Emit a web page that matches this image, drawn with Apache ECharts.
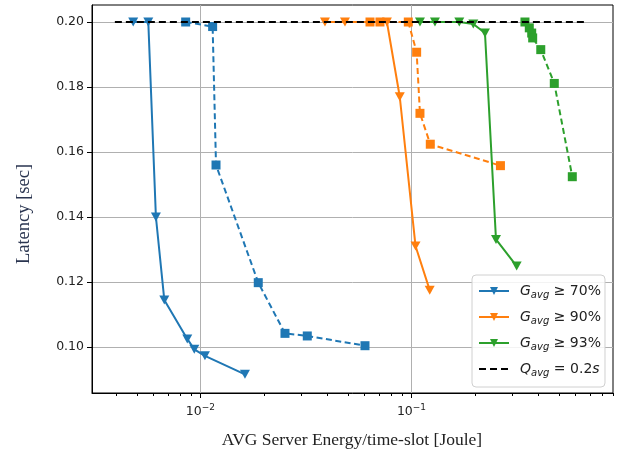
<!DOCTYPE html>
<html>
<head>
<meta charset="utf-8">
<script src="https://cdn.jsdelivr.net/npm/echarts@6/dist/echarts.min.js"></script>
<style>
html,body{margin:0;padding:0;background:#fff;}
#chart{width:622px;height:457px;}
</style>
</head>
<body>
<div id="chart"></div>
<script>
// ---- data ----
const g70SolidX = [0.00480, 0.00566, 0.00615, 0.00674, 0.00866, 0.00935, 0.01050, 0.01625];
const g70SolidY = [0.2000, 0.2000, 0.1400, 0.1145, 0.1025, 0.0993, 0.0973, 0.0916];
const g70DashX = [0.00851, 0.01142, 0.01185, 0.01879, 0.02515, 0.03208, 0.06021];
const g70DashY = [0.2000, 0.1986, 0.1560, 0.1198, 0.1042, 0.1034, 0.1004];

const g90SolidX = [0.0389, 0.0484, 0.0765, 0.0880, 0.1045, 0.1220];
const g90SolidY = [0.2000, 0.2000, 0.2000, 0.1770, 0.1311, 0.1175];
const g90DashX = [0.0636, 0.0709, 0.0966, 0.1058, 0.1097, 0.1228, 0.2640];
const g90DashY = [0.2000, 0.2000, 0.2000, 0.1907, 0.1719, 0.1624, 0.1558];

const g93SolidX = [0.1097, 0.1292, 0.1685, 0.1963, 0.2230, 0.2515, 0.3151];
const g93SolidY = [0.2000, 0.2000, 0.2000, 0.1994, 0.1966, 0.1331, 0.1249];
const g93DashX = [0.3450, 0.3617, 0.3713, 0.3753, 0.4099, 0.4751, 0.5783];
const g93DashY = [0.2000, 0.1982, 0.1966, 0.1951, 0.1915, 0.1811, 0.1524];

const qLineX = [0.00393, 0.681];
const qLineY = [0.2, 0.2];

const xMajorTicks = [0.01, 0.1];
const xMinorTicks = [0.004,0.005,0.006,0.007,0.008,0.009,0.02,0.03,0.04,0.05,0.06,0.07,0.08,0.09,0.2,0.3,0.4,0.5,0.6,0.7,0.8,0.9];
const yTicks = [0.10, 0.12, 0.14, 0.16, 0.18, 0.20];

const legendLabels = {
  'G70': '{i|G}{s|avg}{t| ≥ 70%}',
  'G90': '{i|G}{s|avg}{t| ≥ 90%}',
  'G93': '{i|G}{s|avg}{t| ≥ 93%}',
  'Q':   '{i|Q}{s|avg}{t| = 0.2}{i|s}'
};

const XMIN = 0.003062, XMAX = 0.9016;
const YMIN = 0.08585, YMAX = 0.20523;

const zip = (xs, ys) => xs.map((x, i) => [x, ys[i]]);
const C1 = '#1f77b4', C2 = '#ff7f0e', C3 = '#2ca02c';

function solid(name, color, xs, ys) {
  return {
    name: name, type: 'line', data: zip(xs, ys),
    symbol: 'triangle', symbolRotate: 180, symbolSize: [10, 9],
    lineStyle: {color: color, width: 2},
    itemStyle: {color: color},
    z: 3
  };
}
function dashed(name, color, xs, ys) {
  return {
    name: name, type: 'line', data: zip(xs, ys),
    symbol: 'rect', symbolSize: 9,
    lineStyle: {color: color, width: 2, type: [6, 3.5]},
    itemStyle: {color: color},
    z: 3
  };
}

const chart = echarts.init(document.getElementById('chart'), null, {renderer: 'canvas'});
const richSmall = {
  i: {fontFamily: 'DejaVu Sans', fontStyle: 'italic', fontSize: 14, color: '#222', lineHeight: 20},
  s: {fontFamily: 'DejaVu Sans', fontStyle: 'italic', fontSize: 10, color: '#222', lineHeight: 20, padding: [8, 0, 0, 0]},
  t: {fontFamily: 'DejaVu Sans', fontSize: 14, color: '#222', lineHeight: 20}
};
const option = {
  animation: false,
  backgroundColor: '#fff',
  grid: {left: 92, right: 9, top: 5, bottom: 64, show: true, borderColor: '#000', borderWidth: 1, containLabel: false},
  xAxis: [{
    type: 'log', logBase: 10, min: XMIN, max: XMAX,
    axisLine: {show: true, onZero: false, lineStyle: {color: '#000', width: 1}},
    axisTick: {show: true, customValues: xMajorTicks, length: 5, lineStyle: {color: '#000'}},
    axisLabel: {
      customValues: xMajorTicks, margin: 10,
      formatter: function (v) { return '{b|10}{e|−' + Math.round(-Math.log10(v)) + '}'; },
      rich: {
        b: {fontFamily: 'DejaVu Sans', fontSize: 12.5, color: '#222'},
        e: {fontFamily: 'DejaVu Sans', fontSize: 9, color: '#222', padding: [0, 0, 8, 0]}
      }
    },
    splitLine: {show: true, lineStyle: {color: '#b0b0b0', width: 1}}
  }, {
    type: 'log', logBase: 10, min: XMIN, max: XMAX, position: 'bottom',
    axisLine: {show: false},
    axisTick: {show: true, customValues: xMinorTicks, length: 3, lineStyle: {color: '#000'}},
    axisLabel: {show: false},
    splitLine: {show: false}
  }],
  yAxis: {
    type: 'value', min: YMIN, max: YMAX,
    axisLine: {show: true, onZero: false, lineStyle: {color: '#000', width: 1}},
    axisTick: {show: true, customValues: yTicks, length: 5, lineStyle: {color: '#000'}},
    axisLabel: {
      customValues: yTicks, margin: 8,
      formatter: function (v) { return v.toFixed(2); },
      fontFamily: 'DejaVu Sans', fontSize: 12.5, color: '#222'
    },
    splitLine: {show: true, lineStyle: {color: '#b0b0b0', width: 1}}
  },
  legend: {
    data: ['G70', 'G90', 'G93', {name: 'Q', itemStyle: {color: 'rgba(0,0,0,0)', borderColor: 'rgba(0,0,0,0)', borderWidth: 0}}],
    orient: 'vertical', left: 472, top: 275,
    padding: [7, 4, 9, 6],
    itemWidth: 30, itemHeight: 10, itemGap: 8,
    backgroundColor: 'rgba(255,255,255,0.85)',
    borderColor: '#d0d0d0', borderWidth: 1, borderRadius: 4,
    formatter: function (name) { return legendLabels[name]; },
    textStyle: {rich: richSmall, padding: [0, 0, 0, 6]}
  },
  graphic: [
    {type: 'text', x: 352, y: 440, style: {text: 'AVG Server Energy/time-slot [Joule]', fontFamily: 'Liberation Serif', fontSize: 17.5, fill: '#222', align: 'center', verticalAlign: 'middle'}},
    {type: 'text', x: 24, y: 214, rotation: Math.PI / 2, style: {text: 'Latency [sec]', fontFamily: 'Liberation Serif', fontSize: 18.5, fill: '#2a3550', align: 'center', verticalAlign: 'middle'}}
  ],
  series: [
    solid('G70', C1, g70SolidX, g70SolidY),
    dashed('G70d', C1, g70DashX, g70DashY),
    solid('G90', C2, g90SolidX, g90SolidY),
    dashed('G90d', C2, g90DashX, g90DashY),
    solid('G93', C3, g93SolidX, g93SolidY),
    dashed('G93d', C3, g93DashX, g93DashY),
    {
      name: 'Q', type: 'line', data: zip(qLineX, qLineY), symbol: 'none',
      lineStyle: {color: '#000', width: 2, type: [7, 4]},
      itemStyle: {color: '#000'}, z: 5
    }
  ]
};
chart.setOption(option);
</script>
</body>
</html>
